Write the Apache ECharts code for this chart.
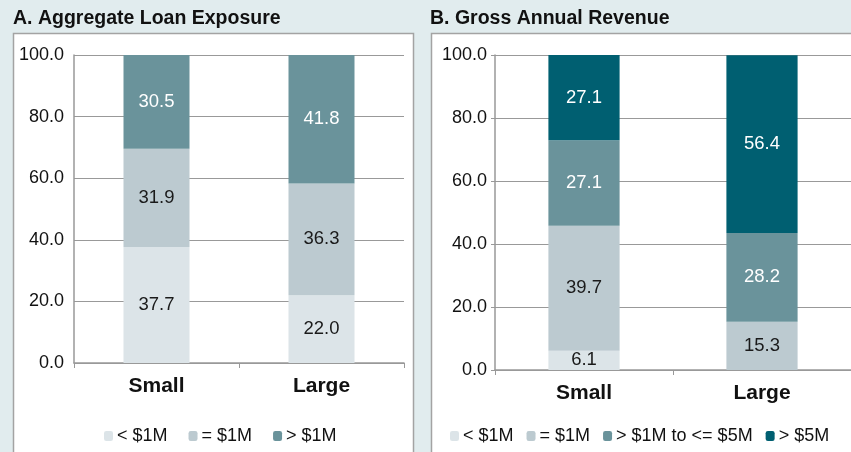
<!DOCTYPE html>
<html>
<head>
<meta charset="utf-8">
<script src="https://cdn.jsdelivr.net/npm/echarts@6/dist/echarts.min.js"></script>
<style>
html,body{margin:0;padding:0;background:#e1ecee;}
#c{width:851px;height:452px;}
</style>
</head>
<body>
<div id="c"></div>
<script>
const categories = ['Small', 'Large'];
const yTicks = [0, 20, 40, 60, 80, 100];

const titleA = 'A. Aggregate Loan Exposure';
const namesA = ['< $1M', '= $1M', '> $1M'];
const lessA = [37.7, 22.0];
const equalA = [31.9, 36.3];
const moreA = [30.5, 41.8];

const titleB = 'B. Gross Annual Revenue';
const namesB = ['< $1M', '= $1M', '> $1M to <= $5M', '> $5M'];
const lessB = [6.1, 0];
const equalB = [39.7, 15.3];
const midB = [27.1, 28.2];
const moreB = [27.1, 56.4];

const colors = ['#dce4e8', '#bccad0', '#6a939b', '#005f71'];
const labelColors = ['#1a1a1a', '#1a1a1a', '#ffffff', '#ffffff'];
const FONT = '"Liberation Sans Narrow", "Liberation Sans", Arial, sans-serif';
const BOLD = '"Liberation Sans", Arial, sans-serif';

function mkSeries(name, data, idx, gi) {
  return {
    name: name,
    type: 'bar',
    stack: 'g' + gi,
    xAxisIndex: gi,
    yAxisIndex: gi,
    data: data,
    barWidth: '40%',
    itemStyle: { color: colors[idx] },
    label: {
      show: true,
      position: 'inside',
      color: labelColors[idx],
      fontFamily: FONT,
      fontSize: 18.5,
      formatter: p => (p.value ? Number(p.value).toFixed(1) : '')
    },
    emphasis: { disabled: true }
  };
}

function xAx(gi) {
  return {
    type: 'category',
    gridIndex: gi,
    data: categories,
    axisLine: { lineStyle: { color: '#999', width: 1.5 } },
    axisTick: { show: true, length: 5, lineStyle: { color: '#999' } },
    axisLabel: { fontFamily: BOLD, fontWeight: 'bold', fontSize: 21, color: '#111', margin: 13 }
  };
}
function yAx(gi) {
  return {
    type: 'value',
    gridIndex: gi,
    min: yTicks[0],
    max: yTicks[yTicks.length - 1],
    interval: yTicks[1] - yTicks[0],
    axisLine: { show: true, lineStyle: { color: '#999', width: 1.5 } },
    axisTick: { show: gi === 1, length: 4, lineStyle: { color: '#999' } },
    splitLine: { lineStyle: { color: '#999', width: 1.2 } },
    axisLabel: { fontFamily: FONT, fontSize: 18, color: '#111', margin: gi === 1 ? 8 : 10, formatter: v => v.toFixed(1) }
  };
}

function legendFor(names, left, gap) {
  return {
    data: names.map((n, i) => ({ name: n, itemStyle: { color: colors[i] } })),
    left: left, top: 427, padding: 0,
    itemWidth: 9, itemHeight: 10, itemGap: gap, selectedMode: false,
    textStyle: { fontFamily: FONT, fontSize: 18, color: '#111', padding: [0, 0, 0, -1] }
  };
}

const chart = echarts.init(document.getElementById('c'));
chart.setOption({
  backgroundColor: '#e1ecee',
  animation: false,
  graphic: [
    { type: 'rect', z: -10, shape: { x: 13.5, y: 33.5, width: 400, height: 440 }, style: { fill: '#ffffff', stroke: '#a3a3a3', lineWidth: 1.5 } },
    { type: 'rect', z: -10, shape: { x: 431.5, y: 33.5, width: 440, height: 440 }, style: { fill: '#ffffff', stroke: '#a3a3a3', lineWidth: 1.5 } }
  ],
  title: [
    { text: titleA, left: 13, top: 9, padding: 0, textStyle: { fontFamily: BOLD, fontWeight: 'bold', fontSize: 19.5, color: '#111' } },
    { text: titleB, left: 430, top: 9, padding: 0, textStyle: { fontFamily: BOLD, fontWeight: 'bold', fontSize: 19.5, color: '#111' } }
  ],
  legend: [
    legendFor(namesA, 104, 21),
    legendFor(namesB, 450, 13)
  ],
  grid: [
    { left: 74, top: 55, right: 447, bottom: 89 },
    { left: 495, top: 55, right: 0, bottom: 82 }
  ],
  xAxis: [xAx(0), xAx(1)],
  yAxis: [yAx(0), yAx(1)],
  series: [
    mkSeries(namesA[0], lessA, 0, 0),
    mkSeries(namesA[1], equalA, 1, 0),
    mkSeries(namesA[2], moreA, 2, 0),
    mkSeries(namesB[0], lessB, 0, 1),
    mkSeries(namesB[1], equalB, 1, 1),
    mkSeries(namesB[2], midB, 2, 1),
    mkSeries(namesB[3], moreB, 3, 1)
  ]
});
</script>
</body>
</html>
